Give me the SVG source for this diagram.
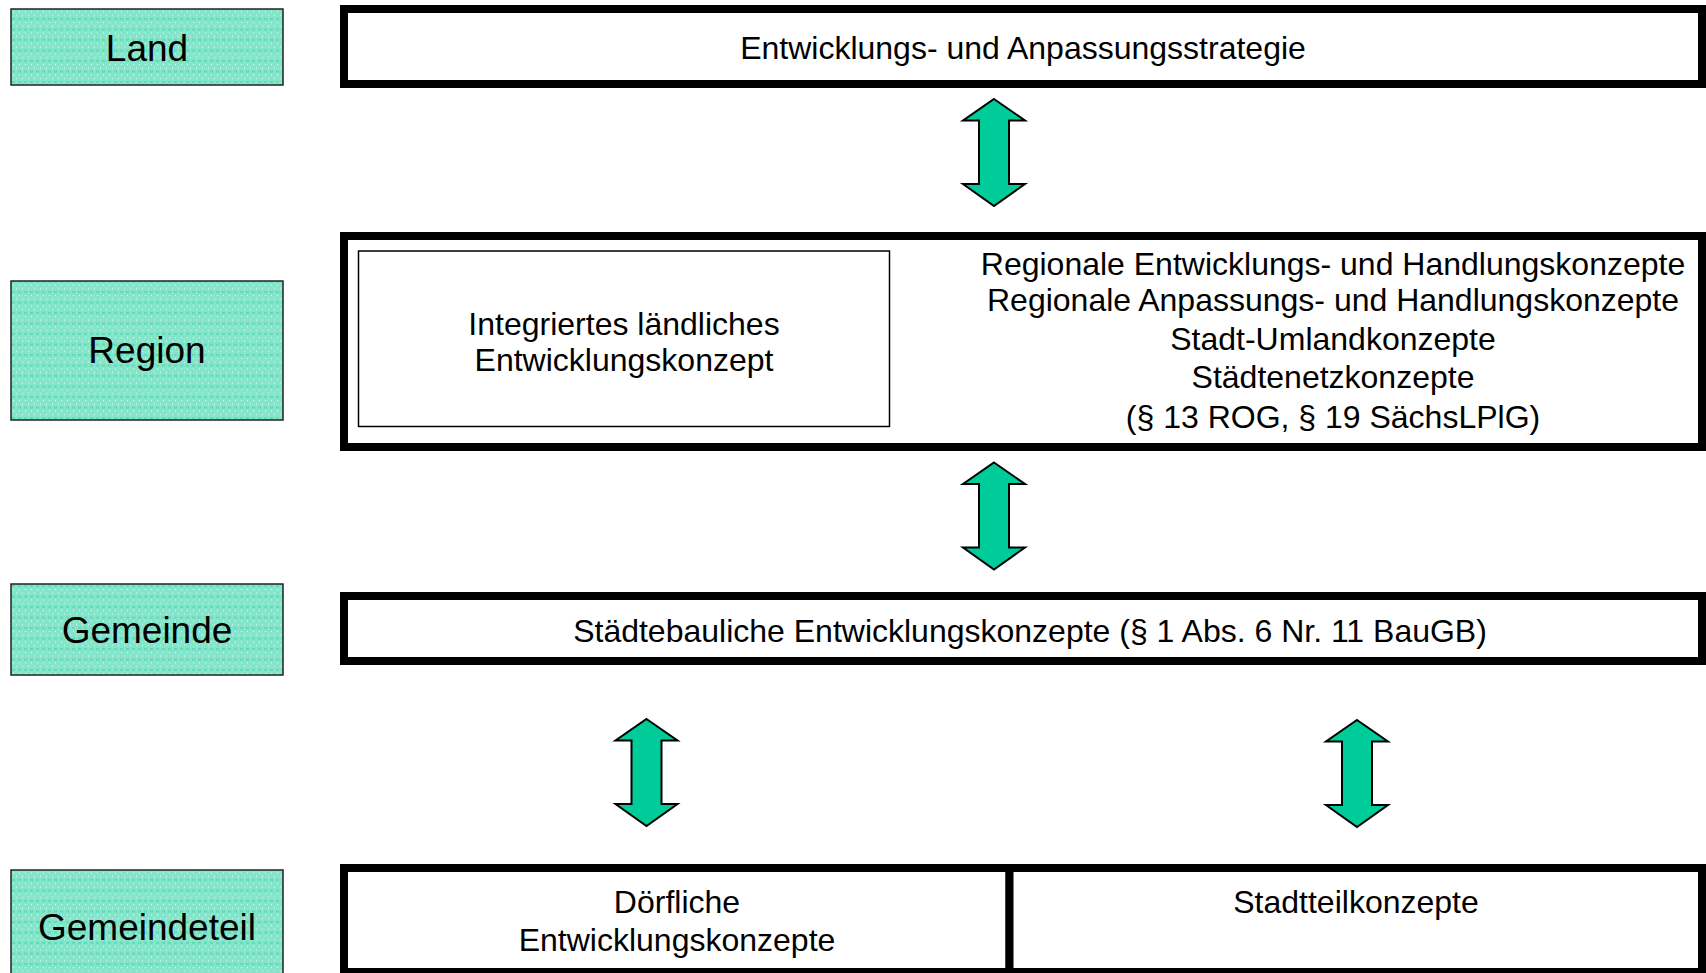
<svg xmlns="http://www.w3.org/2000/svg" width="1706" height="973" viewBox="0 0 1706 973">
  <style>
    .lbl { stroke: #222; stroke-width: 1.5; fill: url(#dots); }
    .lt { font-family: "Liberation Sans", Arial, sans-serif; font-size: 37px; fill: #000; text-anchor: middle; }
    .box { fill: #fff; stroke: #000; stroke-width: 8; }
    .inner { fill: #fff; stroke: #000; stroke-width: 1.5; }
    .t { font-family: "Liberation Sans", Arial, sans-serif; font-size: 32px; fill: #000; text-anchor: middle; }
    .arr { fill: #00cc99; stroke: #000; stroke-width: 2; stroke-linejoin: miter; }
  </style>
  <defs>
    <pattern id="dots" patternUnits="userSpaceOnUse" width="6" height="10.5">
      <rect width="6" height="10.5" fill="#84e5ca"/>
      <rect x="1" y="1" width="1" height="1" fill="#e9fbf5"/>
      <rect x="4" y="4.5" width="1" height="1" fill="#e9fbf5"/>
      <rect x="0" y="8" width="3" height="1" fill="#3fd2a6"/>
    </pattern>
    <path id="dbl" d="M0,0 L31,21.5 L15,21.5 L15,85 L31,85 L0,107 L-31,85 L-15,85 L-15,21.5 L-31,21.5 Z"/>
  </defs>
  <rect width="1706" height="973" fill="#fff"/>

  <g id="label-land">
    <rect class="lbl" x="11" y="9" width="272" height="76"/>
    <text class="lt" x="147" y="61">Land</text>
  </g>
  <g id="label-region">
    <rect class="lbl" x="11" y="281" width="272" height="139"/>
    <text class="lt" x="147" y="363">Region</text>
  </g>
  <g id="label-gemeinde">
    <rect class="lbl" x="11" y="584" width="272" height="91"/>
    <text class="lt" x="147" y="643">Gemeinde</text>
  </g>
  <g id="label-gemeindeteil">
    <rect class="lbl" x="11" y="870" width="272" height="110"/>
    <text class="lt" x="147" y="940">Gemeindeteil</text>
  </g>

  <g id="box-land">
    <rect class="box" x="344" y="9" width="1358" height="75"/>
    <text class="t" x="1023" y="59">Entwicklungs- und Anpassungsstrategie</text>
  </g>

  <g id="box-region">
    <rect class="box" x="344" y="236" width="1358" height="211"/>
    <g id="box-ilek">
      <rect class="inner" x="358.5" y="251" width="531" height="175.5"/>
      <text class="t" x="624" y="335">Integriertes ländliches</text>
      <text class="t" x="624" y="371">Entwicklungskonzept</text>
    </g>
    <g id="region-text">
      <text class="t" x="1333" y="275">Regionale Entwicklungs- und Handlungskonzepte</text>
      <text class="t" x="1333" y="311">Regionale Anpassungs- und Handlungskonzepte</text>
      <text class="t" x="1333" y="350">Stadt-Umlandkonzepte</text>
      <text class="t" x="1333" y="388">Städtenetzkonzepte</text>
      <text class="t" x="1333" y="428">(§ 13 ROG, § 19 SächsLPlG)</text>
    </g>
  </g>

  <g id="box-gemeinde">
    <rect class="box" x="344" y="596" width="1358" height="65"/>
    <text class="t" x="1030" y="642">Städtebauliche Entwicklungskonzepte (§ 1 Abs. 6 Nr. 11 BauGB)</text>
  </g>

  <g id="box-doerflich">
    <rect class="box" x="344" y="868" width="665.5" height="104"/>
    <text class="t" x="677" y="913">Dörfliche</text>
    <text class="t" x="677" y="951">Entwicklungskonzepte</text>
  </g>
  <g id="box-stadtteil">
    <rect class="box" x="1009.5" y="868" width="692.5" height="104"/>
    <text class="t" x="1356" y="913">Stadtteilkonzepte</text>
  </g>

  <g id="connectors">
    <use href="#dbl" class="arr" transform="translate(994,99)"/>
    <use href="#dbl" class="arr" transform="translate(994,462.5)"/>
    <use href="#dbl" class="arr" transform="translate(646.5,719)"/>
    <use href="#dbl" class="arr" transform="translate(1357,720)"/>
  </g>
</svg>
